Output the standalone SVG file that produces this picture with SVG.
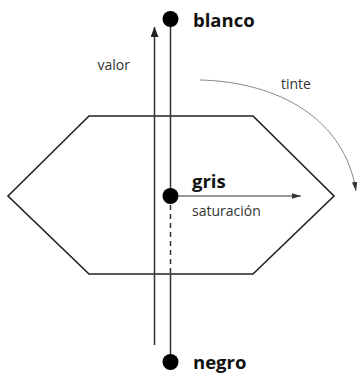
<svg xmlns="http://www.w3.org/2000/svg" width="357" height="378" viewBox="0 0 357 378">
<defs>
<marker id="ah" viewBox="0 0 10 8" refX="10" refY="4" markerWidth="10" markerHeight="8" markerUnits="userSpaceOnUse" orient="auto">
<path d="M0,0 L10,4 L0,8 Z" fill="#222"/>
</marker>
<marker id="ahs" viewBox="0 0 10 6" refX="10" refY="3" markerWidth="9" markerHeight="6" markerUnits="userSpaceOnUse" orient="auto">
<path d="M0,0 L10,3 L0,6 Z" fill="#333"/>
</marker>
</defs>
<style>
.big{font-family:"Open Sans","Noto Sans",sans-serif;font-weight:bold;font-size:18.5px;fill:#111}
.small{font-family:"Open Sans","Noto Sans",sans-serif;font-size:14px;fill:#333}
.ln{stroke:#333;stroke-width:1.5;fill:none}
.dot{fill:#000}
</style>
<g id="hexagon">
<polygon points="8,196 89,116 253,116 334,196 253,274 89,274" fill="none" stroke="#222" stroke-width="1.6"/>
</g>
<g id="connectors">
<line id="valor-axis" class="ln" x1="154.5" y1="345" x2="154.5" y2="27" marker-end="url(#ah)"/>
<line class="ln" x1="170.5" y1="19" x2="170.5" y2="196"/>
<line class="ln" x1="170.5" y1="196" x2="170.5" y2="274" stroke-dasharray="5,4"/>
<line class="ln" x1="170.5" y1="274" x2="170.5" y2="362"/>
<line id="saturacion-axis" stroke="#333" stroke-width="1.2" x1="170.5" y1="196" x2="301" y2="196" marker-end="url(#ahs)"/>
<path id="tinte-arc" d="M200,80 C280,82 345,120 356,191" fill="none" stroke="#888" stroke-width="1" marker-end="url(#ahs)"/>
</g>
<g id="blanco">
<circle class="dot" cx="170.5" cy="19" r="8"/>
<text class="big" x="193" y="26.5">blanco</text>
</g>
<g id="gris">
<circle class="dot" cx="170.5" cy="196" r="8"/>
<text class="big" x="192" y="188">gris</text>
</g>
<g id="negro">
<circle class="dot" cx="170.5" cy="362" r="8"/>
<text class="big" x="193" y="369">negro</text>
</g>
<g id="labels">
<text class="small" x="97.5" y="70">valor</text>
<text class="small" x="281" y="88.5">tinte</text>
<text class="small" x="192" y="215.5">saturación</text>
</g>
</svg>
